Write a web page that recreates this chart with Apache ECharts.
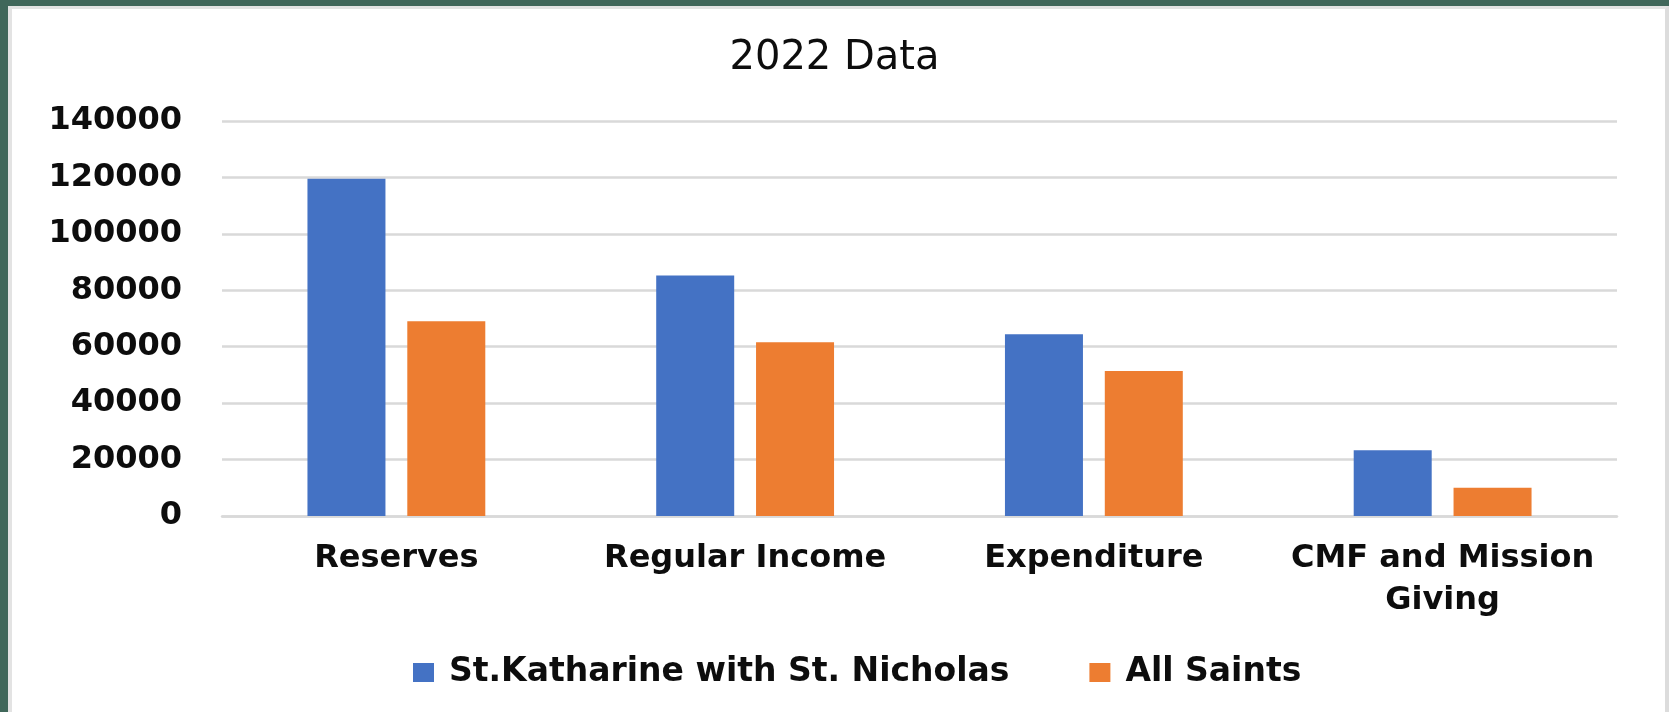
<!DOCTYPE html>
<html>
<head>
<meta charset="utf-8">
<script src="https://cdn.jsdelivr.net/npm/echarts@6/dist/echarts.min.js"></script>
<style>
    html, body { margin: 0; padding: 0; width: 1669px; height: 712px; overflow: hidden; background: #40675a; }
    #frame {
        position: absolute; left: 8px; top: 6px; width: 1653px; height: 706px;
        background: #fff;
        border-left: 4px solid #e3e3e3; border-top: 3px solid #e3e3e3; border-right: 4px solid #dcdcdc;
    }
    #chart { position: absolute; left: 0; top: 0; width: 1669px; height: 712px; }
</style>
</head>
<body>
<div id="frame"></div>
<div id="chart"></div>
<script>
const categories = ['Reserves', 'Regular Income', 'Expenditure', 'CMF and Mission\nGiving'];
const stKatharine = [119500, 85200, 64400, 23300];
const allSaints = [69000, 61600, 51400, 10000];
const seriesNames = ['St.Katharine with St. Nicholas', 'All Saints'];

const chart = echarts.init(document.getElementById('chart'));

const boldText = { fontFamily: 'DejaVu Sans', fontWeight: 'bold', color: '#0d0d0d' };

chart.setOption({
    animation: false,
    title: {
        text: '2022 Data',
        left: 'center',
        top: 34,
        textStyle: { fontFamily: 'DejaVu Sans', fontWeight: 'normal', fontSize: 40, color: '#0d0d0d' },
    },
    legend: {
        data: seriesNames,
        left: 408,
        top: 651,
        itemWidth: 21,
        itemHeight: 19,
        itemGap: 80,
        icon: 'rect',
        textStyle: Object.assign({ fontSize: 33, padding: [0, 0, 0, 10] }, boldText),
    },
    grid: { left: 222, right: 52, top: 121, bottom: 196 },
    xAxis: {
        type: 'category',
        data: categories,
        axisLine: { show: true, lineStyle: { color: '#d9d9d9', width: 2.5 } },
        axisTick: { show: false },
        axisLabel: Object.assign({ fontSize: 32, lineHeight: 42, margin: 22, interval: 0, align: 'center' }, boldText),
    },
    yAxis: {
        type: 'value',
        min: 0,
        max: 140000,
        interval: 20000,
        axisLine: { show: false },
        axisTick: { show: false },
        splitLine: { lineStyle: { color: '#d9d9d9', width: 2.5 } },
        axisLabel: Object.assign({ fontSize: 32, margin: 40, formatter: v => String(v) }, boldText),
    },
    series: [
        {
            name: seriesNames[0],
            type: 'bar',
            data: stKatharine,
            barWidth: 78,
            barGap: '28%',
            itemStyle: { color: '#4472c4' },
        },
        {
            name: seriesNames[1],
            type: 'bar',
            data: allSaints,
            barWidth: 78,
            itemStyle: { color: '#ed7d31' },
        },
    ],
});
</script>
</body>
</html>
